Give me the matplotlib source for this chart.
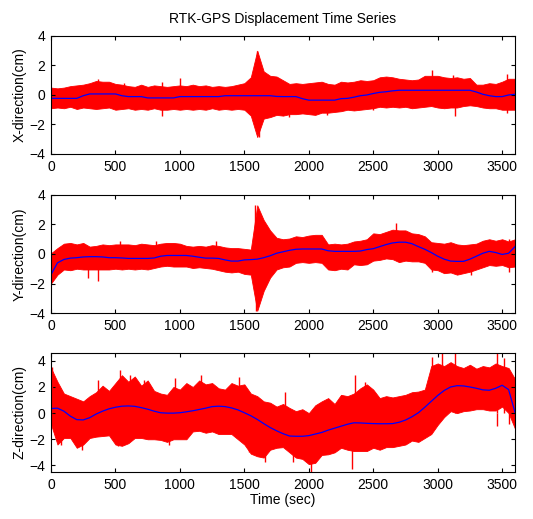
import numpy as np
import matplotlib
matplotlib.use("Agg")
import matplotlib.pyplot as plt

plt.rcParams['font.family'] = ['Liberation Sans', 'DejaVu Sans']
plt.rcParams['font.size'] = 10

# time grid (s), values read every 50 s
t = np.arange(0, 3601, 50)

# X-direction: smoothed trend and upper/lower extent of raw signal (cm)
x_trend = [-0.23, -0.23, -0.23, -0.23, -0.23, -0.05, 0.07, 0.07, 0.07, 0.07,
           0.07, -0.05, -0.11, -0.11, -0.11, -0.2, -0.2, -0.2, -0.2, -0.2,
           -0.11, -0.11, -0.11, -0.11, -0.11, -0.11, -0.11, -0.05, -0.05, -0.05,
           -0.05, -0.05, -0.05, -0.05, -0.05, -0.1, -0.11, -0.11, -0.11, -0.25,
           -0.35, -0.35, -0.35, -0.35, -0.35, -0.25, -0.23, -0.15, -0.05, 0.0,
           0.1, 0.18, 0.22, 0.28, 0.32, 0.32, 0.32, 0.32, 0.32, 0.32,
           0.32, 0.32, 0.32, 0.32, 0.32, 0.32, 0.2, 0.05, -0.05, -0.11,
           -0.11, 0.0, 0.05]
x_upper = [0.5, 0.45, 0.5, 0.6, 0.65, 0.7, 0.8, 0.95, 0.9, 0.9,
           0.75, 0.7, 0.6, 0.55, 0.7, 0.55, 0.65, 0.6, 0.55, 0.6,
           0.65, 0.6, 0.7, 0.6, 0.65, 0.55, 0.6, 0.55, 0.6, 0.7,
           0.8, 1.2, 3.0, 1.6, 1.3, 1.25, 1.0, 0.75, 0.8, 0.75,
           0.8, 0.85, 0.9, 0.75, 0.7, 0.9, 0.85, 0.9, 1.0, 0.95,
           1.0, 1.2, 1.25, 1.2, 1.1, 1.05, 1.0, 1.05, 1.3, 1.3,
           1.3, 1.2, 1.15, 1.2, 1.1, 1.15, 0.7, 0.7, 0.8, 0.75,
           0.9, 1.1, 1.1]
x_lower = [-0.9, -0.85, -0.9, -0.8, -0.95, -0.85, -0.9, -0.95, -0.9, -0.85,
           -1.0, -0.95, -0.9, -1.0, -0.95, -1.0, -0.9, -1.0, -1.0, -0.95,
           -1.0, -0.95, -1.0, -0.95, -1.0, -0.9, -1.0, -0.95, -1.0, -0.95,
           -1.0, -1.4, -2.85, -1.6, -1.5, -1.35, -1.4, -1.3, -1.3, -1.25,
           -1.3, -1.35, -1.2, -1.2, -1.15, -1.1, -1.0, -1.05, -1.0, -0.95,
           -0.9, -0.8, -0.85, -0.8, -0.85, -0.8, -0.9, -0.85, -0.8, -0.75,
           -0.85, -0.9, -0.85, -0.85, -0.75, -0.7, -0.75, -0.85, -0.9, -0.9,
           -1.0, -1.0, -1.0]
# isolated spikes (time s, value cm)
x_spike_t = [368, 570, 862, 1002, 1598, 2955, 3120, 3537,
             862, 1610, 1850, 2143, 2498, 3132, 3537]
x_spike_v = [1.05, 0.8, 0.9, 1.13, 3.0, 1.7, 1.35, 1.45,
             -1.4, -2.85, -1.5, -1.35, -1.05, -1.4, -1.25]

# Y-direction
y_trend = [-1.4, -0.6, -0.37, -0.28, -0.25, -0.2, -0.18, -0.18, -0.2, -0.25,
           -0.25, -0.27, -0.3, -0.3, -0.3, -0.3, -0.27, -0.15, -0.1, -0.1,
           -0.1, -0.1, -0.15, -0.22, -0.28, -0.28, -0.3, -0.4, -0.48, -0.48,
           -0.4, -0.38, -0.35, -0.25, -0.12, 0.05, 0.15, 0.25, 0.32, 0.34,
           0.34, 0.34, 0.34, 0.22, 0.18, 0.18, 0.18, 0.18, 0.2, 0.3,
           0.36, 0.5, 0.64, 0.75, 0.8, 0.8, 0.7, 0.5, 0.32, 0.1,
           -0.15, -0.35, -0.48, -0.5, -0.5, -0.35, -0.15, 0.05, 0.18, 0.1,
           -0.03, 0.05, 0.5]
y_upper = [0.05, 0.4, 0.7, 0.75, 0.65, 0.75, 0.5, 0.55, 0.65, 0.6,
           0.65, 0.65, 0.65, 0.6, 0.7, 0.65, 0.6, 0.7, 0.75, 0.75,
           0.7, 0.55, 0.5, 0.55, 0.5, 0.6, 0.55, 0.45, 0.4, 0.4,
           0.35, 0.3, 3.3, 2.3, 1.6, 1.1, 1.0, 1.05, 1.2, 1.15,
           1.25, 1.3, 1.3, 0.65, 0.7, 0.65, 0.7, 0.85, 0.9, 1.0,
           1.4, 1.35, 1.5, 1.65, 1.6, 1.6, 1.4, 1.35, 1.2, 0.8,
           0.75, 0.7, 0.8, 0.65, 0.6, 0.65, 0.7, 0.9, 1.0, 0.9,
           1.0, 0.85, 1.0]
y_lower = [-2.0, -1.4, -1.05, -1.1, -1.0, -1.05, -1.05, -1.05, -1.05, -1.05,
           -1.0, -1.05, -1.0, -1.05, -1.0, -1.05, -0.95, -0.85, -0.8, -0.85,
           -0.85, -0.85, -0.95, -0.9, -0.95, -1.0, -1.1, -1.2, -1.25, -1.2,
           -1.35, -1.4, -3.85, -2.5, -1.6, -1.05, -0.9, -0.85, -0.6, -0.55,
           -0.6, -0.55, -0.6, -1.05, -1.1, -1.0, -1.05, -0.7, -0.75, -0.7,
           -0.45, -0.4, -0.3, -0.35, -0.55, -0.45, -0.5, -0.5, -0.6, -1.05,
           -1.1, -1.3, -1.25, -1.4, -1.3, -1.2, -1.05, -0.9, -0.75, -0.8,
           -0.75, -0.9, -0.85]
y_spike_t = [533, 812, 1280, 1585, 2676, 3550,
             287, 363, 1590, 2955, 3259, 3550]
y_spike_v = [0.9, 0.85, 0.85, 3.3, 2.1, 1.05,
             -1.65, -1.8, -3.85, -1.2, -1.42, -1.25]

# Z-direction
z_trend = [0.35, 0.38, 0.15, -0.23, -0.5, -0.52, -0.35, -0.07, 0.15, 0.33,
           0.45, 0.53, 0.55, 0.52, 0.42, 0.3, 0.15, 0.03, 0.0, 0.0,
           0.03, 0.1, 0.18, 0.28, 0.38, 0.5, 0.53, 0.5, 0.4, 0.25,
           0.03, -0.2, -0.48, -0.8, -1.1, -1.35, -1.57, -1.75, -1.77, -1.77,
           -1.72, -1.6, -1.48, -1.3, -1.15, -1.0, -0.85, -0.74, -0.75, -0.78,
           -0.8, -0.81, -0.81, -0.8, -0.7, -0.53, -0.28, 0.03, 0.45, 0.9,
           1.35, 1.73, 2.0, 2.1, 2.08, 2.0, 1.9, 1.78, 1.75, 1.9,
           2.13, 1.8, 0.05]
z_upper = [3.45, 2.4, 1.5, 1.3, 1.1, 0.9, 1.3, 1.6, 2.1, 1.7,
           2.3, 2.9, 2.4, 2.8, 2.1, 2.5, 1.7, 1.5, 1.4, 2.0,
           1.8, 2.3, 2.0, 2.5, 2.2, 2.3, 1.9, 1.8, 2.3, 2.1,
           2.2, 1.5, 1.3, 0.9, 0.8, 0.5, 0.7, 0.4, 0.15, 0.3,
           0.0, 0.6, 0.9, 1.15, 0.7, 1.4, 1.3, 1.5, 1.9, 2.2,
           1.8, 1.15, 1.3, 1.2, 1.3, 1.4, 1.6, 1.65, 1.8, 3.6,
           3.8, 3.6, 3.9, 3.6, 3.45, 3.7, 3.4, 3.6, 3.5, 3.8,
           3.6, 3.45, 2.6]
z_lower = [-0.85, -2.4, -1.9, -1.9, -2.65, -2.4, -1.9, -1.8, -1.75, -1.7,
           -2.4, -2.5, -2.3, -1.9, -1.9, -2.0, -2.0, -2.05, -2.2, -2.0,
           -2.0, -2.0, -1.4, -1.35, -1.5, -1.4, -1.6, -1.6, -1.6, -2.0,
           -2.4, -3.1, -3.3, -3.4, -2.8, -2.65, -2.6, -3.0, -3.4, -3.5,
           -3.9, -3.8, -3.2, -3.15, -3.0, -2.65, -2.8, -2.9, -2.9, -2.9,
           -2.65, -2.8, -2.6, -2.6, -2.5, -2.4, -2.1, -2.2, -1.9, -1.6,
           -0.9, -0.3, 0.15, 0.0, 0.15, 0.2, 0.3, 0.3, 0.2, 0.2,
           0.5, 0.0, -1.2]
z_spike_t = [8, 368, 533, 616, 723, 964, 1167, 1458, 1813, 2358, 2435,
             2955, 3031, 3132, 3462, 3512,
             76, 241, 520, 913, 1534, 1661, 1877, 2016, 2333, 3462, 3550]
z_spike_v = [3.55, 2.5, 3.3, 2.9, 2.5, 2.65, 2.9, 2.8, 1.65, 2.9, 2.4,
             4.3, 4.6, 4.6, 4.6, 4.2,
             -2.45, -2.8, -2.55, -2.4, -2.95, -3.7, -3.7, -4.47, -4.3, -1.0, -0.8]

panels = [
    ("X-direction(cm)", x_trend, x_upper, x_lower, x_spike_t, x_spike_v, (-4, 4)),
    ("Y-direction(cm)", y_trend, y_upper, y_lower, y_spike_t, y_spike_v, (-4, 4)),
    ("Z-direction(cm)", z_trend, z_upper, z_lower, z_spike_t, z_spike_v, (-4.5, 4.6)),
]

fig = plt.figure(figsize=(5.33, 5.19), dpi=100)
rects = [
    [0.0957, 0.7033, 0.8706, 0.2274],
    [0.0957, 0.3969, 0.8706, 0.2274],
    [0.0957, 0.0906, 0.8706, 0.2293],
]

for rect, (label, trend, upper, lower, sp_t, sp_v, ylim) in zip(rects, panels):
    ax = fig.add_axes(rect)
    ax.fill_between(t, lower, upper, color='red', lw=0.6, edgecolor='red')
    ax.vlines(sp_t, 0, sp_v, color='red', lw=1.0)
    ax.plot(t, trend, color='blue', lw=0.9)
    ax.set_xlim(0, 3600)
    ax.set_ylim(*ylim)
    ax.set_xticks(np.arange(0, 3501, 500))
    ax.set_yticks([-4, -2, 0, 2, 4])
    ax.tick_params(direction='in', top=True, right=True, length=3,
                   labelsize=10, pad=4)
    ax.set_ylabel(label, fontsize=10, labelpad=2)
    for s in ax.spines.values():
        s.set_linewidth(0.8)
    if label.startswith("X"):
        ax.set_title("RTK-GPS Displacement Time Series", fontsize=10, pad=9)
    if label.startswith("Z"):
        ax.set_xlabel("Time (sec)", fontsize=10, labelpad=1)

fig.savefig("out.png", dpi=100)
